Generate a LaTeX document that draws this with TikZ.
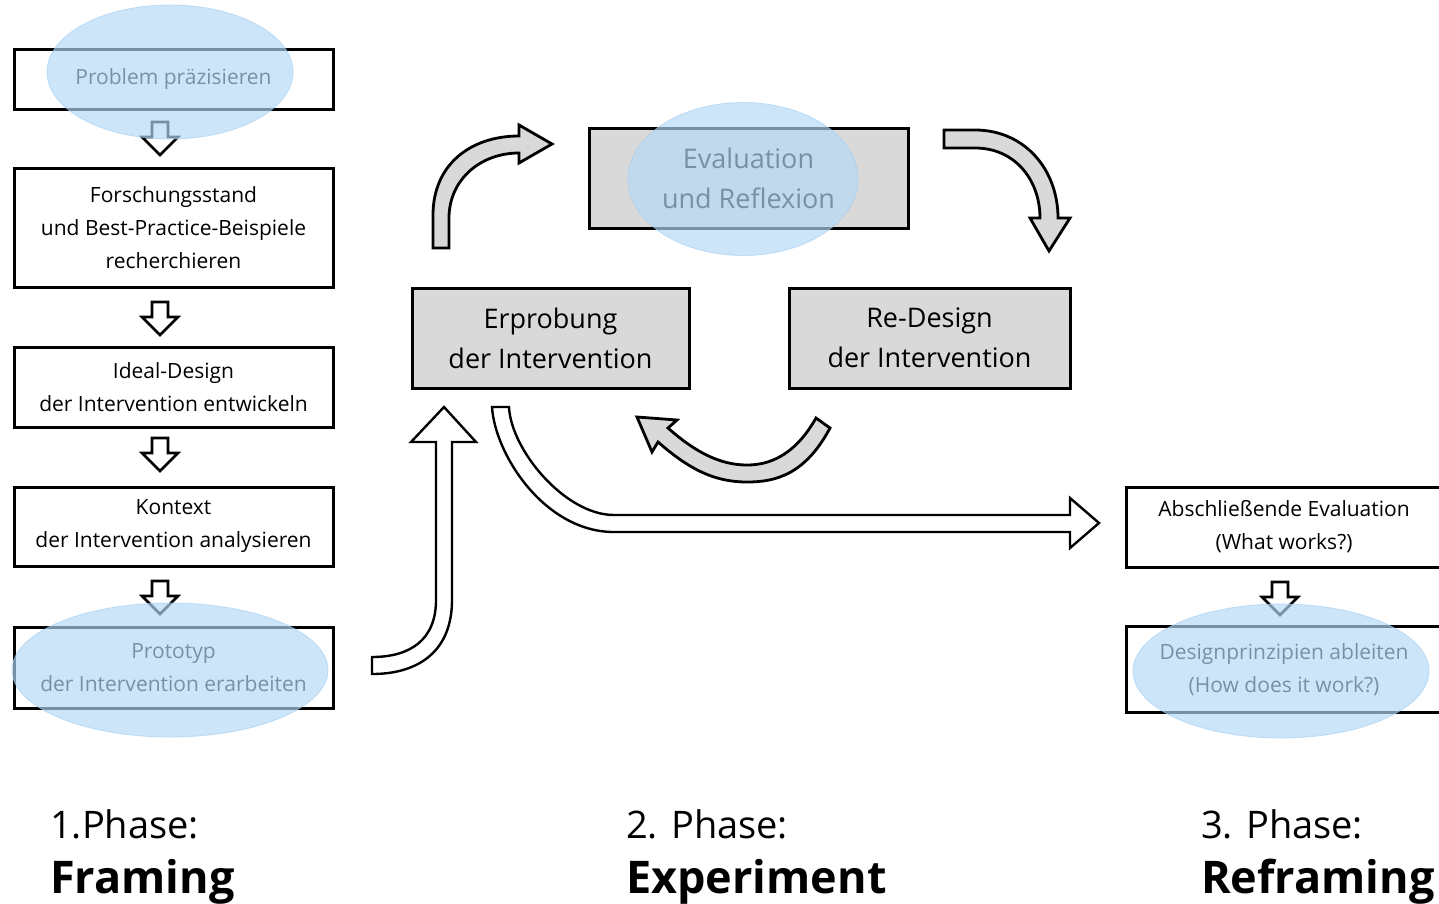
\documentclass[tikz,border=0pt]{standalone}
\usepackage{fontspec}
\setmainfont{Open Sans}
\usetikzlibrary{shapes.geometric}
\definecolor{boxgray}{RGB}{217,217,217}
\definecolor{hl}{RGB}{180,217,247}
\definecolor{hledge}{RGB}{160,205,242}
\begin{document}
\begin{tikzpicture}[x=1pt,y=-1pt,
  box/.style={draw=black, line width=3pt, fill=white, inner sep=0pt, align=center,
    font=\fontsize{21}{33}\selectfont},
  graybox/.style={box, fill=boxgray, font=\fontsize{27}{40}\selectfont},
  hlell/.style={ellipse, fill=hl, fill opacity=0.667, draw=hledge, draw opacity=0.6, line width=0.8pt, inner sep=0pt},
  garrow/.style={draw=black, line width=2.8pt, fill=boxgray, line join=miter},
  warrow/.style={draw=black, line width=2.4pt, fill=white, line join=miter},
  sarrow/.style={draw=black, line width=2.6pt, fill=white, line join=miter},
  phase/.style={anchor=base west, inner sep=0pt, font=\fontsize{38}{46}\selectfont},
  phasebold/.style={phase, font=\fontsize{45}{52}\selectfont\bfseries}]
\useasboundingbox (0,0) rectangle (1439,903);
\clip (0,0) rectangle (1439,903);
\fill[white] (0,0) rectangle (1439,903);

% left column
\node[box, minimum width=319pt, minimum height=60pt] (b1) at (173.5,79.5) {Problem präzisieren};
\node[box, minimum width=319pt, minimum height=119pt] (b2) at (173.5,228) {Forschungsstand\\und Best-Practice-Beispiele\\recherchieren};
\node[box, minimum width=319pt, minimum height=80pt] (b3) at (173.5,387) {Ideal-Design\\der Intervention entwickeln};
\node[box, minimum width=319pt, minimum height=79pt] (b4) at (173.5,526.5) {Kontext\\der Intervention analysieren};
\node[box, minimum width=319pt, minimum height=81pt] (b5) at (173.5,667.5) {Prototyp\\der Intervention erarbeiten};

% small arrows
\foreach \ax/\ay in {160/122, 160/302, 160/438, 160/581, 1280/582}{
  \draw[sarrow] (\ax-8,\ay) -- (\ax+8,\ay) -- (\ax+8,\ay+15) -- (\ax+18,\ay+15) -- (\ax,\ay+33)
     -- (\ax-18,\ay+15) -- (\ax-8,\ay+15) -- cycle;
}

% middle cycle
\node[graybox, minimum width=319pt, minimum height=100pt] (ev) at (748.5,178) {Evaluation\\und Reflexion};
\node[graybox, minimum width=277pt, minimum height=100pt] (er) at (550.5,338) {Erprobung\\der Intervention};
\node[graybox, minimum width=281pt, minimum height=100pt] (rd) at (929.5,338) {Re-Design\\der Intervention};

% gray curved arrows
\draw[garrow] (433,248) -- (433,215) .. controls (433,165) and (470,136) .. (519,136)
  -- (519,125) -- (552,144) -- (519,163) -- (519,153)
  .. controls (480,153) and (449,180) .. (449,218) -- (449,248) -- cycle;
\draw[garrow] (944,130) -- (975,130) .. controls (1025,130) and (1058,170) .. (1058,218)
  -- (1070,218) -- (1049,251) -- (1030,218) -- (1040,218)
  .. controls (1040,180) and (1015,148) .. (975,148) -- (944,148) -- cycle;
\draw[garrow] (816,418) -- (830,428) .. controls (805,475) and (775,482) .. (747,482)
  .. controls (715,482) and (690,470) .. (658,442) -- (652,452) -- (637,417) -- (677,420) -- (668,428)
  .. controls (695,452) and (720,465) .. (747,465) .. controls (770,465) and (795,455) .. (816,418) -- cycle;

% white arrows
\draw[warrow] (372,674) .. controls (420,674) and (452,650) .. (452,600) -- (452,442)
  -- (476,442) -- (444,407) -- (411,442) -- (436,442) -- (436,600)
  .. controls (436,640) and (410,657) .. (372,657) -- cycle;
\draw[warrow] (492,407) .. controls (495,455) and (545,532) .. (614,532) -- (1070,532)
  -- (1070,548) -- (1099,523) -- (1070,498) -- (1070,515) -- (614,515)
  .. controls (565,515) and (511,450) .. (509,407) -- cycle;

% right column
\node[box, minimum width=316pt, minimum height=80pt] (ae) at (1284,527) {Abschließende Evaluation\\(What works?)};
\node[box, minimum width=316pt, minimum height=86pt] (dp) at (1284,669.5) {Designprinzipien ableiten\\(How does it work?)};

% highlights
\node[hlell, minimum width=246pt, minimum height=134pt] (h1) at (170,72) {};
\node[hlell, minimum width=316pt, minimum height=134pt] (h5) at (170,670) {};
\node[hlell, minimum width=230pt, minimum height=153pt] (hev) at (743,179) {};
\node[hlell, minimum width=296pt, minimum height=134pt] (hdp) at (1281,671) {};

% phase labels
\node[phase] (p1) at (50,838) {1.Phase:};
\node[phasebold] (f1) at (50,893) {Framing};
\node[phase] (p2) at (626,838) {2. Phase:};
\node[phasebold] (f2) at (626,893) {Experiment};
\node[phase] (p3) at (1201,838) {3. Phase:};
\node[phasebold] (f3) at (1201,893) {Reframing};
\end{tikzpicture}
\end{document}
